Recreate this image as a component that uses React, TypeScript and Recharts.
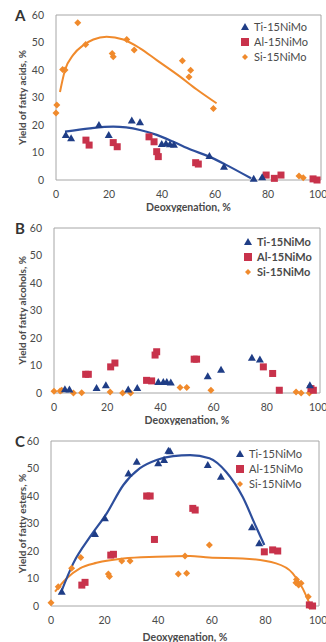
import {
  ComposedChart,
  Scatter,
  Line,
  XAxis,
  YAxis,
  ReferenceLine,
  Legend,
} from "recharts";

// axis ticks shared by all three panels
const xTicks = [0, 20, 40, 60, 80, 100];
const yTicks = [0, 10, 20, 30, 40, 50, 60];
const seriesNames = ["Ti-15NiMo", "Al-15NiMo", "Si-15NiMo"];

type Pt = [number, number];

// A - fatty acids
const acidsTi: Pt[] = [
  [3.7, 16.4], [5.7, 15.2], [16.2, 20], [19.9, 16.4], [28.6, 21.6], [31.7, 21],
  [39.9, 13.1], [41.5, 13.3], [43, 13], [44.5, 12.8], [57.9, 8.7], [63.4, 4.8],
  [74.6, 0.5], [77.8, 1],
];
const acidsAl: Pt[] = [
  [11.3, 14.5], [12.5, 12.7], [21.6, 13.6], [23.1, 12.1], [35.1, 15.7], [37, 13.9],
  [38, 10.3], [38.6, 8.5], [52.7, 6.3], [53.7, 5.8], [79.3, 1.8], [82.4, 0.6],
  [84.9, 1.8], [97, 0.4], [98.5, 0],
];
const acidsSi: Pt[] = [
  [0, 24.4], [0.3, 27.3], [2.5, 40.2], [3.4, 40], [8.2, 57.2], [11.2, 49.3],
  [21.2, 46], [21.6, 44.8], [26.7, 51.1], [29.5, 47.3], [47.7, 43.4], [50.2, 37.5],
  [50.8, 39.9], [59.4, 26], [91.7, 1.5], [93.3, 0.8],
];
const acidsTiFit: Pt[] = [
  [3.4, 17.6], [12.8, 18.8], [21.6, 19.4], [31.7, 18.2], [38, 16.4], [44.3, 13.9],
  [51, 11], [57.8, 8.5], [64.2, 5.5], [73.6, 0.6],
];
const acidsSiFit: Pt[] = [
  [1.5, 32], [3.4, 40], [6.5, 45.5], [10.3, 49], [14.1, 51.1], [19.1, 52.1],
  [25.4, 51.1], [31.7, 47.9], [38, 43.6], [46.8, 37.6], [53, 33], [60.6, 27.9],
];

// B - fatty alcohols
const alcoholsTi: Pt[] = [
  [4.1, 1.4], [5.8, 1.3], [16, 1.8], [19.5, 2.8], [27.9, 1.3], [31.3, 1.8],
  [39.2, 4], [41.1, 4], [42.4, 4], [43.9, 3.8], [57.8, 6.1], [62.8, 8.5],
  [74.4, 12.8], [77.4, 12.2], [96.2, 2.8],
];
const alcoholsAl: Pt[] = [
  [11.9, 6.8], [12.9, 6.8], [21.3, 9.5], [22.9, 10.9], [34.8, 4.6], [36.7, 4.4],
  [38, 13.8], [38.6, 15], [52.7, 12.3], [53.6, 12.3], [78.7, 9.5], [82.2, 7.1],
  [84.7, 1], [96.6, 1.6], [97.5, 1],
];
const alcoholsSi: Pt[] = [
  [0, 0.6], [2.3, 0.7], [2.9, 1], [7.3, 0], [10.4, 0.1], [21.1, 0.4], [25.8, 0],
  [28.8, 0], [47.4, 2], [49.9, 2], [59, 1], [91, 0.4], [92.9, 0], [96, 0],
];

// C - fatty esters
const estersTi: Pt[] = [
  [4, 5.2], [16.4, 26.2], [20.1, 31.9], [28.9, 48.2], [32, 52.5], [40, 51.9],
  [42.2, 53.1], [43.8, 56.5], [44.4, 56.3], [58.5, 51.3], [63.4, 47], [75, 28.6],
  [77.7, 22.8],
];
const estersAl: Pt[] = [
  [11.5, 7.6], [12.7, 8.6], [22.3, 18.5], [23.3, 18.8], [35.7, 40], [37, 40],
  [38.6, 24.2], [52.9, 35.5], [53.8, 34.9], [79.6, 19.7], [82.7, 20.4], [84.6, 20],
  [96.4, 0.4], [97.6, 0],
];
const estersSi: Pt[] = [
  [0, 1.2], [2.7, 7], [7.7, 13.7], [11.1, 17.6], [21.4, 11.6], [21.8, 10.7],
  [26.4, 16.4], [29.5, 16.4], [47.5, 11.6], [50, 18.2], [50.6, 11.9], [59.1, 22.2],
  [91.4, 8.5], [92.4, 7.6], [93.3, 8.3], [91.6, 9.6], [96, 3.4], [96.4, 0],
];
const estersTiFit: Pt[] = [
  [3.6, 4.6], [8.3, 15.5], [14.6, 25.2], [20.8, 33.7], [27, 44], [33.2, 50.1],
  [39.4, 53.1], [45.6, 54.5], [51.9, 54.9], [59.1, 53.7], [65.3, 48.8], [71.5, 39.7],
  [76.5, 28.8], [79.6, 22.2],
];
const estersSiFit: Pt[] = [
  [1.5, 5.2], [5.9, 10.1], [10.8, 13.7], [17, 15.7], [27, 17.3], [39.4, 17.9],
  [51.9, 18.2], [59, 17.6], [71.5, 17.3], [84, 15.5], [90.2, 11.9], [93.9, 6.4],
  [96.4, 1],
];

const BLUE = "#1f3d86";
const BLUE_LINE = "#2d4e9c";
const RED = "#c8324b";
const ORANGE = "#f08a2c";
const TEXT = "#4a4a4a";
const FRAME = "#a6a6a6";
const FONT = "Lato, 'Liberation Sans', sans-serif";

const toRows = (pts: Pt[]) => pts.map(([x, y]) => ({ x, y }));

const Triangle = (p: any) => (
  <polygon
    points={`${p.cx},${p.cy - 4} ${p.cx + 4},${p.cy + 3} ${p.cx - 4},${p.cy + 3}`}
    fill={BLUE}
  />
);
const Square = (p: any) => (
  <rect x={p.cx - 3.5} y={p.cy - 3.5} width={7} height={7} fill={RED} />
);
const Diamond = (p: any) => (
  <polygon
    points={`${p.cx},${p.cy - 3.5} ${p.cx + 3.5},${p.cy} ${p.cx},${p.cy + 3.5} ${p.cx - 3.5},${p.cy}`}
    fill={ORANGE}
  />
);

const LegendBox = ({ bold }: { bold?: boolean }) => {
  const marks = [
    <polygon points="5,1 9,8 1,8" fill={BLUE} />,
    <rect x={1} y={1} width={8} height={8} fill={RED} />,
    <polygon points="5,2 8,5 5,8 2,5" fill={ORANGE} />,
  ];
  return (
    <div style={{ fontFamily: FONT, fontSize: 11, color: TEXT, fontWeight: bold ? 700 : 400 }}>
      {seriesNames.map((n, i) => (
        <div key={n} style={{ display: "flex", alignItems: "center", height: 15 }}>
          <svg width={10} height={10} style={{ marginRight: 4 }}>
            {marks[i]}
          </svg>
          {n}
        </div>
      ))}
    </div>
  );
};

interface PanelProps {
  top: number;
  height: number;
  plotLeft: number;
  plotRight: number;
  plotTop: number;
  plotBottom: number;
  letter: string;
  yTitle: string;
  ti: Pt[];
  al: Pt[];
  si: Pt[];
  tiFit?: Pt[];
  siFit?: Pt[];
  legendX: number;
  legendY: number;
  boldLegend?: boolean;
}

const Panel = (p: PanelProps) => {
  const yAxisWidth = p.plotLeft - 10;
  const xAxisHeight = p.height - p.plotBottom;
  return (
    <div style={{ position: "absolute", left: 0, top: p.top }}>
      <ComposedChart
        width={326}
        height={p.height}
        margin={{ top: p.plotTop, right: 326 - p.plotRight, left: 10, bottom: 0 }}
        style={{ fontFamily: FONT }}
      >
        <XAxis
          type="number"
          dataKey="x"
          domain={[0, 100]}
          ticks={xTicks}
          height={xAxisHeight}
          axisLine={{ stroke: FRAME }}
          tickLine={false}
          tickSize={0}
          tickMargin={11}
          tick={{ fill: TEXT, fontSize: 10.5 }}
          label={{
            value: "Deoxygenation, %",
            position: "insideBottom",
            offset: 1,
            style: { fill: TEXT, fontSize: 10.5, fontWeight: 700 },
          }}
        />
        <YAxis
          type="number"
          dataKey="y"
          domain={[0, 60]}
          ticks={yTicks}
          width={yAxisWidth}
          axisLine={{ stroke: FRAME }}
          tickLine={false}
          tickSize={0}
          tickMargin={12}
          tick={{ fill: TEXT, fontSize: 10.5 }}
          label={{
            value: p.yTitle,
            angle: -90,
            position: "insideLeft",
            offset: 12,
            style: { fill: TEXT, fontSize: 10, fontWeight: 700, textAnchor: "middle" },
          }}
        />
        <ReferenceLine y={60} stroke={FRAME} />
        <ReferenceLine x={100} stroke={FRAME} />
        {p.siFit && (
          <Line
            data={toRows(p.siFit)}
            dataKey="y"
            type="monotone"
            stroke={ORANGE}
            strokeWidth={2}
            dot={false}
            isAnimationActive={false}
          />
        )}
        {p.tiFit && (
          <Line
            data={toRows(p.tiFit)}
            dataKey="y"
            type="monotone"
            stroke={BLUE_LINE}
            strokeWidth={2.2}
            dot={false}
            isAnimationActive={false}
          />
        )}
        <Scatter name={seriesNames[2]} data={toRows(p.si)} shape={Diamond} isAnimationActive={false} />
        <Scatter name={seriesNames[1]} data={toRows(p.al)} shape={Square} isAnimationActive={false} />
        <Scatter name={seriesNames[0]} data={toRows(p.ti)} shape={Triangle} isAnimationActive={false} />
        <Legend
          layout="vertical"
          align="center"
          verticalAlign="middle"
          content={() => <LegendBox bold={p.boldLegend} />}
          wrapperStyle={{ position: "absolute", left: p.legendX, top: p.legendY, width: "auto" }}
        />
      </ComposedChart>
      <div
        style={{
          position: "absolute",
          left: 15,
          top: p.plotTop - 9,
          fontFamily: FONT,
          fontSize: 15,
          fontWeight: 700,
          color: "#333",
        }}
      >
        {p.letter}
      </div>
    </div>
  );
};

export default function App() {
  return (
    <div style={{ position: "absolute", left: 0, top: 0, width: 326, height: 642, background: "#fff" }}>
      <Panel
        top={0}
        height={212}
        plotLeft={56}
        plotRight={321}
        plotTop={15}
        plotBottom={180}
        letter="A"
        yTitle="Yield of fatty acids, %"
        ti={acidsTi}
        al={acidsAl}
        si={acidsSi}
        tiFit={acidsTiFit}
        siFit={acidsSiFit}
        legendX={240}
        legendY={19}
      />
      <Panel
        top={212}
        height={213}
        plotLeft={54}
        plotRight={320}
        plotTop={16}
        plotBottom={181}
        letter="B"
        yTitle="Yield of fatty alcohols, %"
        ti={alcoholsTi}
        al={alcoholsAl}
        si={alcoholsSi}
        legendX={243}
        legendY={22}
        boldLegend
      />
      <Panel
        top={425}
        height={217}
        plotLeft={51}
        plotRight={319}
        plotTop={16}
        plotBottom={181}
        letter="C"
        yTitle="Yield of fatty esters, %"
        ti={estersTi}
        al={estersAl}
        si={estersSi}
        tiFit={estersTiFit}
        siFit={estersSiFit}
        legendX={235}
        legendY={21}
      />
    </div>
  );
}
